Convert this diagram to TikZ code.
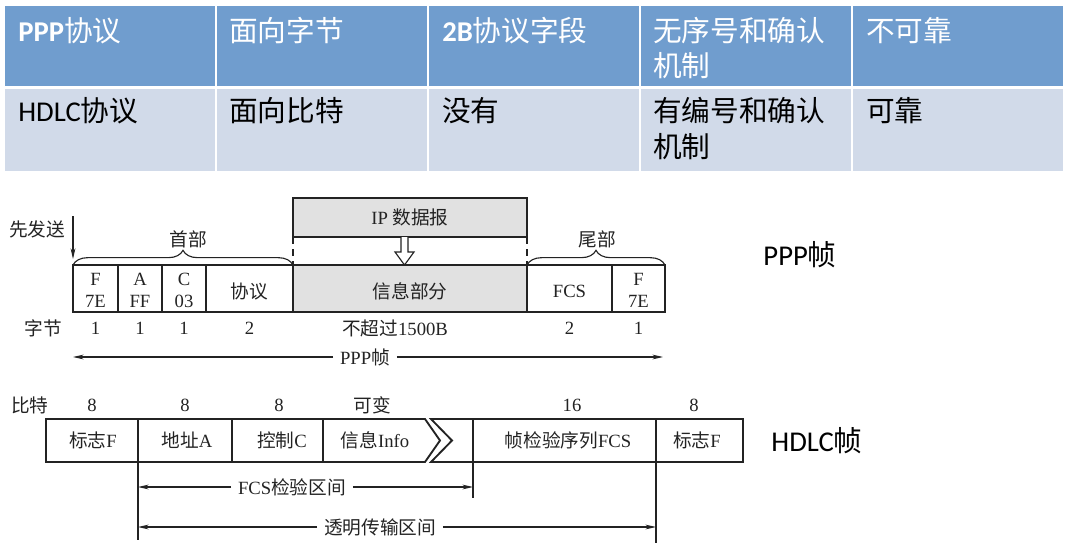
\documentclass[tikz,border=0pt]{standalone}
\usepackage{fontspec}
\setmainfont{Liberation Serif}
\newfontfamily\cjk{Noto Sans CJK SC}
\newfontfamily\latinsans{Carlito}
\usetikzlibrary{arrows.meta,decorations.pathreplacing}
\definecolor{hdr}{RGB}{112,157,206}
\definecolor{rowb}{RGB}{209,218,233}
\definecolor{ink}{RGB}{35,35,35}
\definecolor{boxgray}{RGB}{225,225,225}
\newcommand\zh[1]{{\cjk #1}}

\tikzset{
  tabtxt/.style={anchor=base west, inner sep=0pt, font=\fontsize{21.5}{25}\selectfont},
  hdrtxt/.style={tabtxt, text=white},
  bigtxt/.style={inner sep=0pt, font=\fontsize{21.5}{25}\selectfont, text=black},
  ftxt/.style={inner sep=0pt, text=ink, align=center, font=\fontsize{14}{16.5}\selectfont},
  gaptxt/.style={ftxt, fill=white, inner xsep=5pt, inner ysep=1pt},
  fline/.style={draw=ink, line width=0.85pt},
  hline/.style={draw=ink, line width=1.4pt},
  dimarrow/.style={draw=ink, line width=0.8pt, -{Stealth[length=8pt,width=3.6pt]}},
  bracestyle/.style={draw=ink, line width=0.85pt, decorate,
    decoration={brace, amplitude=11pt}},
}

\begin{document}
\begin{tikzpicture}[x=0.75pt, y=-0.75pt]
\useasboundingbox (0,0) rectangle (1071,550);

% ---------- comparison table ----------
\foreach \a/\b in {5/215,217/427,429/639,641/851,853/1063}{
  \fill[hdr]  (\a,6)  rectangle (\b,86);
  \fill[rowb] (\a,89) rectangle (\b,171);
}
\node[hdrtxt] (h1) at (18,41)  {{\latinsans\bfseries PPP}\zh{协议}};
\node[hdrtxt] (h2) at (229,41) {\zh{面向字节}};
\node[hdrtxt] (h3) at (442,41) {{\latinsans\bfseries 2B}\zh{协议字段}};
\node[hdrtxt] (h4) at (653,41) {\zh{无序号和确认}};
\node[hdrtxt] (h4b) at (653,76) {\zh{机制}};
\node[hdrtxt] (h5) at (866,41) {\zh{不可靠}};

\node[tabtxt] (r1) at (18,121)  {{\latinsans HDLC}\zh{协议}};
\node[tabtxt] (r2) at (229,121) {\zh{面向比特}};
\node[tabtxt] (r3) at (442,121) {\zh{没有}};
\node[tabtxt] (r4) at (653,121) {\zh{有编号和确认}};
\node[tabtxt] (r4b) at (653,157) {\zh{机制}};
\node[tabtxt] (r5) at (866,121) {\zh{可靠}};

% ---------- PPP frame ----------
% IP datagram box and the information field
\fill[boxgray] (293,198) rectangle (527,237);
\draw[fline] (293,198) rectangle (527,237);
\node[ftxt] (ip) at (410,217) {IP \zh{数据报}};
\draw[fline, dash pattern=on 5pt off 4pt] (293,237) -- (293,265);
\draw[fline, dash pattern=on 5pt off 4pt] (527,237) -- (527,265);
\draw[fline, fill=white] (401,237) -- (401,252) -- (395,252) -- (404.5,265)
  -- (414,252) -- (408,252) -- (408,237);

\fill[boxgray] (293,265) rectangle (527,312);
\draw[fline] (73,265) rectangle (665,312);
\foreach \x in {118,162,206,293,527,612}{
  \draw[fline] (\x,265) -- (\x,312);
}

\node[ftxt] (c1) at (95.5,290) {F\\7E};
\node[ftxt] (c2) at (140,290) {A\\FF};
\node[ftxt] (c3) at (184,290) {C\\03};
\node[ftxt] (c4) at (249.5,291) {\zh{协议}};
\node[ftxt] (c5) at (410,291) {\zh{信息部分}};
\node[ftxt] (c6) at (569.5,291) {FCS};
\node[ftxt] (c7) at (638.5,290) {F\\7E};

% header / trailer braces
\draw[bracestyle] (73,265) -- (293,265);
\node[ftxt] (head) at (188,239) {\zh{首部}};
\draw[bracestyle] (527,265) -- (665,265);
\node[ftxt] (tail) at (597,239) {\zh{尾部}};

% first-sent marker
\node[ftxt] (first) at (37,229) {\zh{先发送}};
\coordinate (fs1) at (73,216);
\coordinate (fs2) at (73,259);
\draw[dimarrow] (fs1) -- (fs2);

% byte counts
\node[ftxt] (bytes) at (43,328) {\zh{字节}};
\node[ftxt] (n1) at (95.5,328) {1};
\node[ftxt] (n2) at (140,328) {1};
\node[ftxt] (n3) at (184,328) {1};
\node[ftxt] (n4) at (249.5,328) {2};
\node[ftxt] (n5) at (395,328) {\zh{不超过}1500B};
\node[ftxt] (n6) at (569.5,328) {2};
\node[ftxt] (n7) at (638.5,328) {1};

% PPP frame span
\node[gaptxt] (pppspan) at (365,357) {PPP\zh{帧}};
\coordinate (pl) at (73,357);
\coordinate (pr) at (663,357);
\draw[dimarrow] (pppspan.west) -- (pl);
\draw[dimarrow] (pppspan.east) -- (pr);

% ---------- HDLC frame ----------
\node[ftxt] (bits) at (30,405) {\zh{比特}};
\node[ftxt] (b1) at (92,405) {8};
\node[ftxt] (b2) at (185,405) {8};
\node[ftxt] (b3) at (279,405) {8};
\node[ftxt] (b4) at (372,405) {\zh{可变}};
\node[ftxt] (b5) at (572,405) {16};
\node[ftxt] (b6) at (694,405) {8};

\draw[hline, line join=miter] (46,419) -- (425,419) -- (440,440.5) -- (425,462) -- (46,462) -- cycle;
\draw[hline, line join=miter] (743,419) -- (431,419) -- (452,440.5) -- (431,462) -- (743,462) -- cycle;
\draw[fline] (138,419) -- (138,540);
\draw[fline] (232,419) -- (232,462);
\draw[fline] (323,419) -- (323,462);
\draw[fline] (473,419) -- (473,498);
\draw[fline] (656,419) -- (656,543);

\node[ftxt] (d1) at (93,440) {\zh{标志}F};
\node[ftxt] (d2) at (187,440) {\zh{地址}A};
\node[ftxt] (d3) at (282,440) {\zh{控制}C};
\node[ftxt] (d4) at (375,440) {\zh{信息}Info};
\node[ftxt] (d5) at (568,440) {\zh{帧检验序列}FCS};
\node[ftxt] (d6) at (697,440) {\zh{标志}F};

% checked and transparent spans
\node[gaptxt] (fcsspan) at (292,487) {FCS\zh{检验区间}};
\coordinate (fa) at (138,487);
\coordinate (fb) at (473,487);
\draw[dimarrow] (fcsspan.west) -- (fa);
\draw[dimarrow] (fcsspan.east) -- (fb);

\node[gaptxt] (trspan) at (380,527) {\zh{透明传输区间}};
\coordinate (ta) at (138,527);
\coordinate (tb) at (656,527);
\draw[dimarrow] (trspan.west) -- (ta);
\draw[dimarrow] (trspan.east) -- (tb);

% ---------- side labels ----------
\node[bigtxt] (pppname) at (800,255) {{\latinsans PPP}\zh{帧}};
\node[bigtxt] (hdlcname) at (817,441) {{\latinsans HDLC}\zh{帧}};
\end{tikzpicture}
\end{document}
